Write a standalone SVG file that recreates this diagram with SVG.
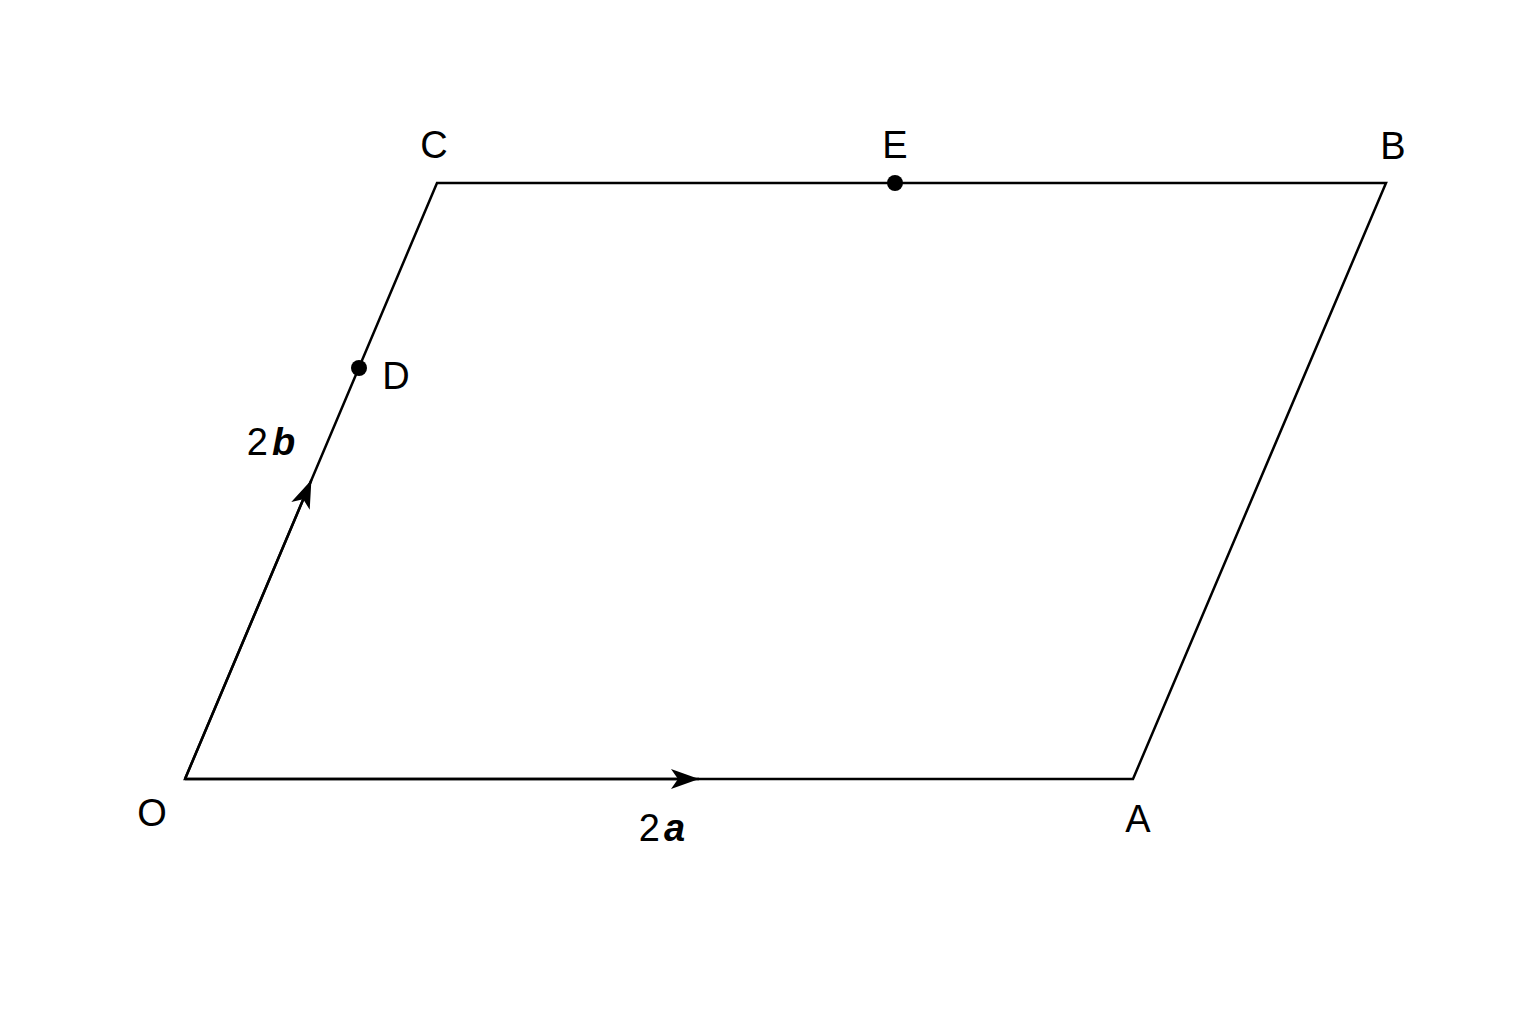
<svg xmlns="http://www.w3.org/2000/svg" width="1536" height="1024" viewBox="0 0 1536 1024">
<style>
.edge{fill:none;stroke:#000;stroke-width:2.5;stroke-linejoin:miter}
.lbl{font-family:"Liberation Sans",Arial,sans-serif;font-size:38px;fill:#000;text-anchor:middle}
.bi{font-weight:bold;font-style:italic}
.pt{fill:#000}
</style>
<defs>
<marker id="arr" markerUnits="userSpaceOnUse" markerWidth="40" markerHeight="30" viewBox="-30 -15 40 30" refX="0" refY="0" orient="auto">
<path d="M0,0 L-28,-10 L-21,0 L-28,10 Z" fill="#000"/>
</marker>
</defs>
<rect width="1536" height="1024" fill="#fff"/>
<g id="connectors">
<path class="edge" d="M185,779 L1133,779 L1386,183 L437,183 Z"/>
<line class="edge" x1="185" y1="779" x2="699" y2="779" marker-end="url(#arr)"/>
<line class="edge" x1="185" y1="779" x2="311.4" y2="480" marker-end="url(#arr)"/>
</g>
<g id="O"><text class="lbl" x="152" y="826">O</text></g>
<g id="A"><text class="lbl" x="1138" y="832">A</text></g>
<g id="B"><text class="lbl" x="1393" y="159">B</text></g>
<g id="C"><text class="lbl" x="434" y="158">C</text></g>
<g id="D"><circle class="pt" cx="359" cy="368" r="8"/><text class="lbl" x="396" y="389">D</text></g>
<g id="E"><circle class="pt" cx="895" cy="183" r="8"/><text class="lbl" x="895" y="158">E</text></g>
<g id="label-2b"><text class="lbl" x="271" y="455">2<tspan class="bi" dx="4">b</tspan></text></g>
<g id="label-2a"><text class="lbl" x="662" y="841">2<tspan class="bi" dx="4">a</tspan></text></g>
</svg>
